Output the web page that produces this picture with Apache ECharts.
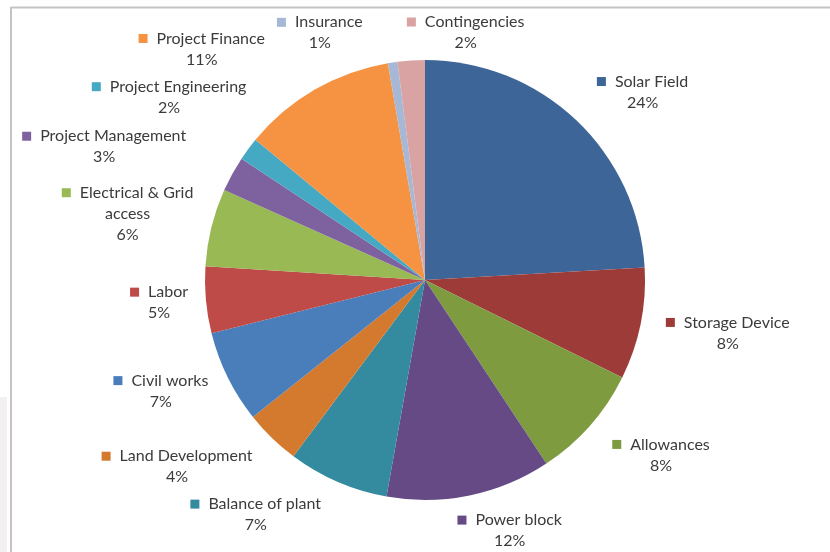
<!DOCTYPE html>
<html>
<head>
<meta charset="utf-8">
<script src="https://cdn.jsdelivr.net/npm/echarts@6/dist/echarts.min.js"></script>
<style>
  html, body { margin: 0; padding: 0; background: #ffffff; }
  #chart { width: 830px; height: 552px; }
</style>
</head>
<body>
<div id="chart"></div>
<script>
// Cost breakdown of the plant, in per cent of total investment
const categories = [
  'Solar Field', 'Storage Device', 'Allowances', 'Power block',
  'Balance of plant', 'Land Development', 'Civil works', 'Labor',
  'Electrical & Grid\naccess', 'Project Management', 'Project Engineering',
  'Project Finance', 'Insurance', 'Contingencies'
];
const shares = [24.1, 8.2, 8.4, 12.1, 7.4, 4.1, 6.8, 4.9, 5.7, 2.6, 1.7, 11.3, 0.7, 2.0];

// slice colours, same order as the categories
const colors = [
  '#3D6597', '#9C3B38', '#7F9B40', '#654A86',
  '#348A9F', '#D47A2F', '#4A7EBB', '#BE4B48',
  '#98B954', '#7E62A0', '#46A9C4', '#F59342',
  '#A7B8D6', '#D9A3A3'
];

// best-fit style label placement: shift of each label from its radial anchor
const labelNudge = [
  [34, 1], [43, 1], [36, 3], [27, -4],
  [-61, -4], [-62, 0], [-26, -4], [-2, -1],
  [-40, -4], [-88, -8], [-42, -28], [-88, -6],
  [-62, 10], [62, 12]
];

const textBase = { fontSize: 16, color: '#3b3b3b', align: 'center', lineHeight: 21, fontFamily: 'Lato' };
const rich = {
  head: Object.assign({}, textBase, { padding: [0, 0, 0, 9] }),
  name: Object.assign({}, textBase),
  pct:  Object.assign({}, textBase)
};
colors.forEach((c, i) => {
  rich['k' + i] = { width: 9, height: 9, backgroundColor: c, align: 'center' };
});

const data = categories.map((name, i) => ({
  name: name,
  value: shares[i],
  itemStyle: { color: colors[i] }
}));

const chart = echarts.init(document.getElementById('chart'), null, { renderer: 'canvas' });
chart.setOption({
  backgroundColor: '#ffffff',
  animation: false,
  graphic: [
    { type: 'rect', shape: { x: 0, y: 397, width: 7, height: 160 }, style: { fill: '#f3f0f0' }, silent: true },
    { type: 'line', shape: { x1: 11, y1: 7.5, x2: 830, y2: 7.5 }, style: { stroke: '#c4c4c4', lineWidth: 2 }, silent: true },
    { type: 'line', shape: { x1: 11, y1: 7, x2: 11, y2: 552 }, style: { stroke: '#c4c4c4', lineWidth: 2 }, silent: true }
  ],
  series: [{
    type: 'pie',
    center: [425, 280],
    radius: 220,
    startAngle: 90,
    clockwise: true,
    avoidLabelOverlap: false,
    itemStyle: { borderWidth: 0 },
    label: {
      show: true,
      position: 'outside',
      formatter: p => {
        const lines = p.name.split('\n');
        const head = '{k' + p.dataIndex + '|}{head|' + lines[0] + '}';
        const rest = lines.slice(1).map(l => '{name|' + l + '}');
        return [head].concat(rest, ['{pct|' + Math.round(p.percent) + '%}']).join('\n');
      },
      rich: rich
    },
    labelLine: { show: false, length: 40, length2: 0 },
    labelLayout: function (params) {
      const n = labelNudge[params.dataIndex];
      return { align: 'center', verticalAlign: 'middle', dx: n[0], dy: n[1] };
    },
    data: data
  }]
});
</script>
</body>
</html>
